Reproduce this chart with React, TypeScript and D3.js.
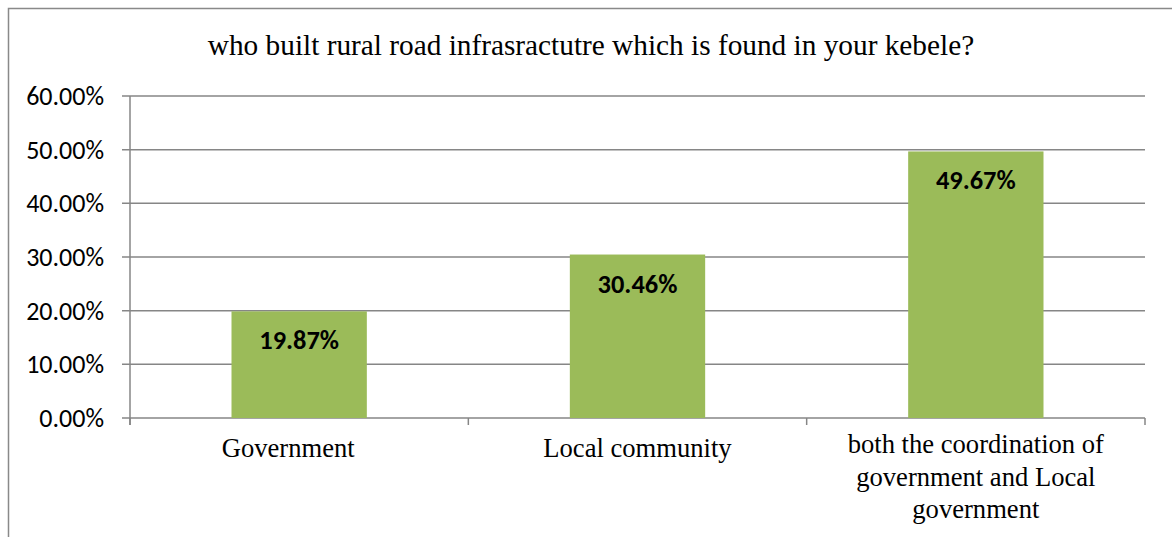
import React from "react";
import * as d3 from "d3";

const title = "who built rural road infrasractutre which is found in your kebele?";
const categories = [
  "Government",
  "Local community",
  "both the coordination of government and Local government",
];
const categoryLines = [
  ["Government"],
  ["Local community"],
  ["both the coordination of", "government and Local", "government"],
];
const values = [0.1987, 0.3046, 0.4967];
const yTicks = [0, 0.1, 0.2, 0.3, 0.4, 0.5, 0.6];

const W = 1172;
const H = 537;
const left = 130;
const right = 1145;
const top = 96;
const bottom = 418;

export default function App() {
  const x = d3.scaleBand<string>().domain(categories).range([left, right]).padding(0);
  const y = d3.scaleLinear().domain([0, 0.6]).range([bottom, top]);
  const barW = x.bandwidth() * 0.4;
  const fmt = (v: number) => (v * 100).toFixed(2) + "%";
  const boundaries = [...categories.map((c) => x(c)!), right];
  const labelDx = [-11, 0, 0];
  return (
    <svg
      width={W}
      height={H}
      style={{ position: "absolute", left: 0, top: 0 }}
    >
      <rect x={0} y={0} width={W} height={H} fill="#fff" />
      <rect x={8.5} y={8.5} width={W + 20} height={H + 20} fill="none" stroke="#898989" strokeWidth={1.5} />
      <text
        x={591}
        y={55}
        textAnchor="middle"
        fontFamily="Liberation Serif"
        fontSize={29.3}
        fill="#000"
      >
        {title}
      </text>
      {yTicks.map((t) => (
        <g key={t}>
          <line x1={left - 8} x2={right} y1={y(t)} y2={y(t)} stroke="#868686" strokeWidth={1.5} />
          <text
            x={104}
            y={y(t) + 9}
            textAnchor="end"
            fontFamily="Carlito, Lato, 'Liberation Sans'"
            fontSize={26}
            fill="#000"
          >
            {fmt(t)}
          </text>
        </g>
      ))}
      <line x1={left} x2={left} y1={top} y2={bottom + 7} stroke="#868686" strokeWidth={1.5} />
      {boundaries.map((b, i) => (
        <line key={i} x1={b} x2={b} y1={bottom} y2={bottom + 7} stroke="#868686" strokeWidth={1.5} />
      ))}
      {categories.map((c, i) => {
        const cx = x(c)! + x.bandwidth() / 2;
        const lines = categoryLines[i];
        const y0 = lines.length > 1 ? 453 : 457;
        return (
          <g key={c}>
            <rect
              x={cx - barW / 2}
              y={y(values[i])}
              width={barW}
              height={bottom - y(values[i])}
              fill="#9BBB59"
            />
            <text
              x={cx}
              y={y(values[i]) + 38}
              textAnchor="middle"
              fontFamily="Carlito, Lato, 'Liberation Sans'"
              fontWeight="bold"
              fontSize={26.4}
              fill="#000"
            >
              {fmt(values[i])}
            </text>
            {lines.map((ln, j) => (
              <text
                key={j}
                x={cx + labelDx[i]}
                y={y0 + j * 32.5}
                textAnchor="middle"
                fontFamily="Liberation Serif"
                fontSize={26.6}
                fill="#000"
              >
                {ln}
              </text>
            ))}
          </g>
        );
      })}
    </svg>
  );
}
